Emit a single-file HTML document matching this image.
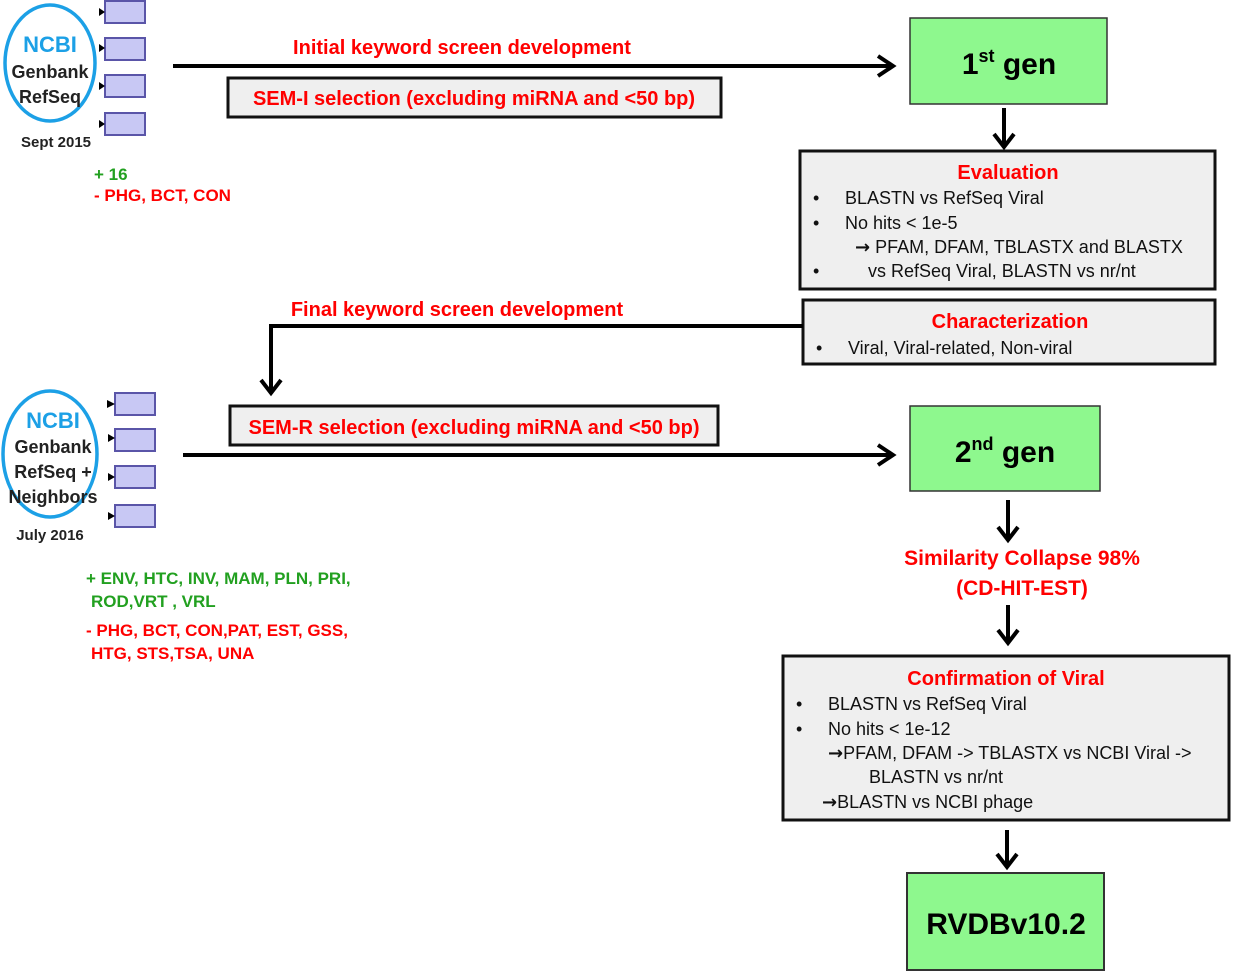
<!DOCTYPE html>
<html><head><meta charset="utf-8"><style>
html,body{margin:0;padding:0;background:#fff;}
svg{display:block;}
text{font-family:"Liberation Sans",sans-serif;}
.r{fill:#ff0000;font-weight:bold;font-size:20px;}
.b{fill:#111;font-size:18px;}
.g{fill:#22a020;font-weight:bold;font-size:17px;}
.rs{fill:#ff0000;font-weight:bold;font-size:17px;}
.sb{fill:#222;font-weight:bold;font-size:17px;}
.box{fill:#c8c8f4;stroke:#5a55a8;stroke-width:2;}
.gray{fill:#efefef;stroke:#111;stroke-width:3;}
.grn{fill:#8ef88e;stroke:#333;stroke-width:1.5;}
.ln{stroke:#000;stroke-width:4;fill:none;}
.ah{stroke:#000;stroke-width:4;fill:none;stroke-linejoin:miter;}
.arw{font-family:"DejaVu Sans",sans-serif;font-weight:bold;font-size:18px;}
</style></head><body>
<svg width="1234" height="974" viewBox="0 0 1234 974" xmlns="http://www.w3.org/2000/svg">
<ellipse cx="50" cy="63" rx="45" ry="58" fill="none" stroke="#1ca0e6" stroke-width="3.5"/>
<text x="50" y="52" text-anchor="middle" style="fill:#1ca0e6;font-weight:bold;font-size:22px">NCBI</text>
<text x="50" y="78" text-anchor="middle" class="sb" style="font-size:18px">Genbank</text>
<text x="50" y="103" text-anchor="middle" class="sb" style="font-size:18px">RefSeq</text>
<text x="56" y="147" text-anchor="middle" class="sb" style="font-size:15px">Sept 2015</text>
<rect class="box" x="105" y="1" width="40" height="22"/>
<rect class="box" x="105" y="38" width="40" height="22"/>
<rect class="box" x="105" y="75" width="40" height="22"/>
<rect class="box" x="105" y="113" width="40" height="22"/>
<g fill="#000"><polygon points="99,8 105,12 99,16"/><polygon points="99,44 105,48 99,52"/><polygon points="99,82 105,86 99,90"/><polygon points="99,120 105,124 99,128"/></g>
<text x="94" y="180" class="g">+ 16</text>
<text x="94" y="201" class="rs">- PHG, BCT, CON</text>

<text x="462" y="54" text-anchor="middle" class="r">Initial keyword screen development</text>
<line class="ln" x1="173" y1="66" x2="892" y2="66"/>
<polyline class="ah" points="878,56 893,66 878,76"/>
<rect class="gray" x="228" y="78" width="493" height="39"/>
<text x="474" y="105" text-anchor="middle" class="r">SEM-I selection  (excluding miRNA and &lt;50 bp)</text>

<rect class="grn" x="910" y="18" width="197" height="86"/>
<text x="1009" y="74" text-anchor="middle" style="font-weight:bold;font-size:30px;fill:#000">1<tspan font-size="18" dy="-12">st</tspan><tspan dy="12"> gen</tspan></text>

<line class="ln" x1="1004" y1="108" x2="1004" y2="146"/>
<polyline class="ah" points="994,134 1004,147 1014,134"/>

<rect class="gray" x="800" y="151" width="415" height="138"/>
<text x="1008" y="179" text-anchor="middle" class="r">Evaluation</text>
<text x="813" y="204" class="b">•</text><text x="845" y="204" class="b">BLASTN vs RefSeq Viral</text>
<text x="813" y="229" class="b">•</text><text x="845" y="229" class="b">No hits &lt; 1e-5</text>
<text x="855" y="253" class="b"><tspan class="arw">→</tspan> PFAM, DFAM, TBLASTX and BLASTX</text>
<text x="813" y="277" class="b">•</text><text x="868" y="277" class="b">vs RefSeq Viral, BLASTN vs nr/nt</text>

<rect class="gray" x="803" y="300" width="412" height="64"/>
<text x="1010" y="328" text-anchor="middle" class="r">Characterization</text>
<text x="816" y="354" class="b">•</text><text x="848" y="354" class="b">Viral, Viral-related, Non-viral</text>

<text x="457" y="316" text-anchor="middle" class="r">Final keyword screen development</text>
<polyline class="ln" points="803,326 271,326 271,392"/>
<polyline class="ah" points="261,380 271,393 281,380"/>

<ellipse cx="50" cy="454" rx="47" ry="63" fill="none" stroke="#1ca0e6" stroke-width="3.5"/>
<text x="53" y="428" text-anchor="middle" style="fill:#1ca0e6;font-weight:bold;font-size:22px">NCBI</text>
<text x="53" y="453" text-anchor="middle" class="sb" style="font-size:18px">Genbank</text>
<text x="53" y="478" text-anchor="middle" class="sb" style="font-size:18px">RefSeq +</text>
<text x="53" y="503" text-anchor="middle" class="sb" style="font-size:18px">Neighbors</text>
<text x="50" y="540" text-anchor="middle" class="sb" style="font-size:15px">July 2016</text>
<rect class="box" x="115" y="393" width="40" height="22"/>
<rect class="box" x="115" y="429" width="40" height="22"/>
<rect class="box" x="115" y="466" width="40" height="22"/>
<rect class="box" x="115" y="505" width="40" height="22"/>
<g fill="#000"><polygon points="107,400 115,404 107,408"/><polygon points="108,434 115,438 108,442"/><polygon points="108,473 115,477 108,481"/><polygon points="108,512 115,516 108,520"/></g>
<text x="86" y="584" class="g">+ ENV, HTC, INV, MAM, PLN, PRI,</text>
<text x="91" y="607" class="g">ROD,VRT , VRL</text>
<text x="86" y="636" class="rs">- PHG, BCT, CON,PAT,  EST, GSS,</text>
<text x="91" y="659" class="rs">HTG, STS,TSA, UNA</text>

<rect class="gray" x="230" y="406" width="488" height="39"/>
<text x="474" y="434" text-anchor="middle" class="r">SEM-R selection (excluding miRNA and &lt;50 bp)</text>
<line class="ln" x1="183" y1="455" x2="892" y2="455"/>
<polyline class="ah" points="878,445 893,455 878,465"/>

<rect class="grn" x="910" y="406" width="190" height="85"/>
<text x="1005" y="462" text-anchor="middle" style="font-weight:bold;font-size:30px;fill:#000">2<tspan font-size="18" dy="-12">nd</tspan><tspan dy="12"> gen</tspan></text>

<line class="ln" x1="1008" y1="500" x2="1008" y2="539"/>
<polyline class="ah" points="998,527 1008,540 1018,527"/>
<text x="1022" y="565" text-anchor="middle" class="r" style="font-size:21px">Similarity Collapse 98%</text>
<text x="1022" y="595" text-anchor="middle" class="r" style="font-size:21px">(CD-HIT-EST)</text>
<line class="ln" x1="1008" y1="605" x2="1008" y2="642"/>
<polyline class="ah" points="998,630 1008,643 1018,630"/>

<rect class="gray" x="783" y="656" width="446" height="164"/>
<text x="1006" y="685" text-anchor="middle" class="r">Confirmation of Viral</text>
<text x="796" y="710" class="b">•</text><text x="828" y="710" class="b">BLASTN vs RefSeq Viral</text>
<text x="796" y="735" class="b">•</text><text x="828" y="735" class="b">No hits  &lt; 1e-12</text>
<text x="828" y="759" class="b"><tspan class="arw">→</tspan>PFAM, DFAM  -&gt; TBLASTX vs NCBI Viral  -&gt;</text>
<text x="869" y="783" class="b">BLASTN vs nr/nt</text>
<text x="822" y="808" class="b"><tspan class="arw">→</tspan>BLASTN vs NCBI phage</text>

<line class="ln" x1="1007" y1="830" x2="1007" y2="866"/>
<polyline class="ah" points="997,854 1007,867 1017,854"/>
<rect class="grn" x="907" y="873" width="197" height="97" style="stroke-width:2"/>
<text x="1006" y="934" text-anchor="middle" style="font-weight:bold;font-size:30px;fill:#000">RVDBv10.2</text>
</svg>
</body></html>
